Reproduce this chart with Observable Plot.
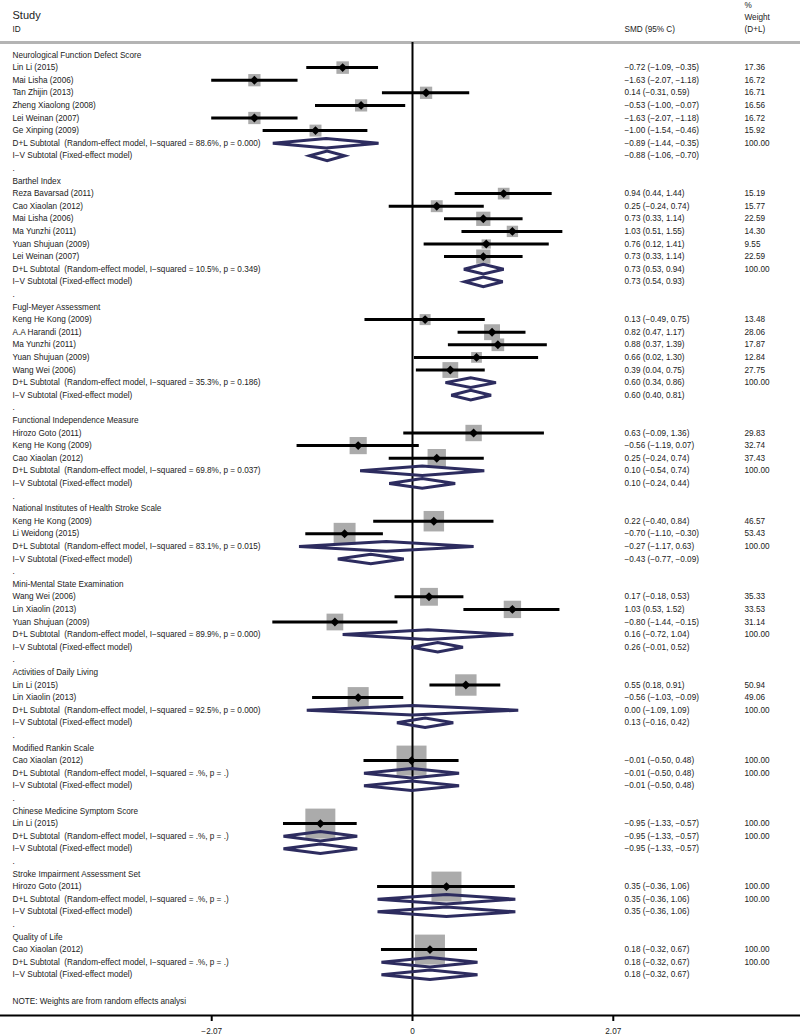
<!DOCTYPE html>
<html><head><meta charset="utf-8">
<script src="https://cdn.jsdelivr.net/npm/d3@7"></script>
<script src="https://cdn.jsdelivr.net/npm/@observablehq/plot@0.6"></script>
<style>
html,body{margin:0;padding:0;background:#fff;}
#chart svg{display:block;}
#chart text{white-space:pre;}
</style></head><body><div id="chart"></div>
<script>
// ---------- data ----------
const groupNames = [
  "Neurological Function Defect Score",
  "Barthel Index",
  "Fugl-Meyer Assessment",
  "Functional Independence Measure",
  "National Institutes of Health Stroke Scale",
  "Mini-Mental State Examination",
  "Activities of Daily Living",
  "Modified Rankin Scale",
  "Chinese Medicine Symptom Score",
  "Stroke Impairment Assessment Set",
  "Quality of Life"
];
const studyGroup = [0,0,0,0,0,0, 1,1,1,1,1,1, 2,2,2,2,2, 3,3,3, 4,4, 5,5,5, 6,6, 7, 8, 9, 10];
const studyNames = [
  "Lin Li (2015)","Mai Lisha (2006)","Tan Zhijin (2013)","Zheng Xiaolong (2008)","Lei Weinan (2007)","Ge Xinping (2009)",
  "Reza Bavarsad (2011)","Cao Xiaolan (2012)","Mai Lisha (2006)","Ma Yunzhi (2011)","Yuan Shujuan (2009)","Lei Weinan (2007)",
  "Keng He Kong (2009)","A.A Harandi (2011)","Ma Yunzhi (2011)","Yuan Shujuan (2009)","Wang Wei (2006)",
  "Hirozo Goto (2011)","Keng He Kong (2009)","Cao Xiaolan (2012)",
  "Keng He Kong (2009)","Li Weidong (2015)",
  "Wang Wei (2006)","Lin Xiaolin (2013)","Yuan Shujuan (2009)",
  "Lin Li (2015)","Lin Xiaolin (2013)",
  "Cao Xiaolan (2012)",
  "Lin Li (2015)",
  "Hirozo Goto (2011)",
  "Cao Xiaolan (2012)"
];
const studySmd  = [-0.72,-1.63,0.14,-0.53,-1.63,-1.00, 0.94,0.25,0.73,1.03,0.76,0.73, 0.13,0.82,0.88,0.66,0.39, 0.63,-0.56,0.25, 0.22,-0.70, 0.17,1.03,-0.80, 0.55,-0.56, -0.01, -0.95, 0.35, 0.18];
const studyLow  = [-1.09,-2.07,-0.31,-1.00,-2.07,-1.54, 0.44,-0.24,0.33,0.51,0.12,0.33, -0.49,0.47,0.37,0.02,0.04, -0.09,-1.19,-0.24, -0.40,-1.10, -0.18,0.53,-1.44, 0.18,-1.03, -0.50, -1.33, -0.36, -0.32];
const studyHigh = [-0.35,-1.18,0.59,-0.07,-1.18,-0.46, 1.44,0.74,1.14,1.55,1.41,1.14, 0.75,1.17,1.39,1.30,0.75, 1.36,0.07,0.74, 0.84,-0.30, 0.53,1.52,-0.15, 0.91,-0.09, 0.48, -0.57, 1.06, 0.67];
const studyWeight = [17.36,16.72,16.71,16.56,16.72,15.92, 15.19,15.77,22.59,14.30,9.55,22.59, 13.48,28.06,17.87,12.84,27.75, 29.83,32.74,37.43, 46.57,53.43, 35.33,33.53,31.14, 50.94,49.06, 100.00, 100.00, 100.00, 100.00];

const dlSmd  = [-0.89,0.73,0.60,0.10,-0.27,0.16,0.00,-0.01,-0.95,0.35,0.18];
const dlLow  = [-1.44,0.53,0.34,-0.54,-1.17,-0.72,-1.09,-0.50,-1.33,-0.36,-0.32];
const dlHigh = [-0.35,0.94,0.86,0.74,0.63,1.04,1.09,0.48,-0.57,1.06,0.67];
const dlI2   = ["88.6%","10.5%","35.3%","69.8%","83.1%","89.9%","92.5%",".%",".%",".%",".%"];
const dlP    = ["0.000","0.349","0.186","0.037","0.015","0.000","0.000",".",".",".","."];
const ivSmd  = [-0.88,0.73,0.60,0.10,-0.43,0.26,0.13,-0.01,-0.95,0.35,0.18];
const ivLow  = [-1.06,0.54,0.40,-0.24,-0.77,-0.01,-0.16,-0.50,-1.33,-0.36,-0.32];
const ivHigh = [-0.70,0.93,0.81,0.44,-0.09,0.52,0.42,0.48,-0.57,1.06,0.67];

const axisTicks = [-2.07, 0, 2.07];
const headerStudy = "Study", headerId = "ID", headerSmd = "SMD (95% C)";
const headerWeight = ["%", "Weight", "(D+L)"];
const noteText = "NOTE: Weights are from random effects analysi";

// ---------- build rows ----------
const MINUS = "\u2212";
const fmt = v => (v < 0 ? MINUS : "") + Math.abs(v).toFixed(2);
const fmtCI = (e, l, h) => `${fmt(e)} (${fmt(l)}, ${fmt(h)})`;

const textRows = [], studies = [], diamonds = [];
let r = 1;
groupNames.forEach((g, gi) => {
  textRows.push({row: r++, label: g});
  studyNames.forEach((n, i) => {
    if (studyGroup[i] !== gi) return;
    const row = r++;
    studies.push({row, smd: studySmd[i], lo: studyLow[i], hi: studyHigh[i], w: studyWeight[i]});
    textRows.push({row, label: n, est: fmtCI(studySmd[i], studyLow[i], studyHigh[i]), wt: studyWeight[i].toFixed(2)});
  });
  const h = 0.38;
  const dlRow = r++;
  textRows.push({row: dlRow, label: `D+L Subtotal  (Random-effect model, I${MINUS}squared = ${dlI2[gi]}, p = ${dlP[gi]})`,
    est: fmtCI(dlSmd[gi], dlLow[gi], dlHigh[gi]), wt: "100.00"});
  const ivRow = r++;
  textRows.push({row: ivRow, label: `I${MINUS}V Subtotal (Fixed-effect model)`, est: fmtCI(ivSmd[gi], ivLow[gi], ivHigh[gi])});
  [[dlRow, dlSmd[gi], dlLow[gi], dlHigh[gi], "dl" + gi], [ivRow, ivSmd[gi], ivLow[gi], ivHigh[gi], "iv" + gi]].forEach(([row, e, l, hi, id]) => {
    diamonds.push({id, x: l, y: row}, {id, x: e, y: row - h}, {id, x: hi, y: row}, {id, x: e, y: row + h});
  });
  if (gi < groupNames.length - 1) textRows.push({row: r++, label: "."});
});
const noteRow = r + 1.1;

// ---------- layout ----------
const W = 800, H = 1035, frameBottom = 1015;
const rowPx = 12.6, firstRowPx = 54.5;
const yOf = px => 1 + (px - firstRowPx) / rowPx;
const yTop = yOf(0), yBottom = yOf(frameBottom);
const zeroPx = 412, unitPx = 97;
const xDomain = [-zeroPx / unitPx, (W - zeroPx) / unitPx];
const navy = "#2d2c5f", boxGray = "#ababab", ink = "#222";
const colLeft = 12, colSmd = 624, colW = 744;

const chart = Plot.plot({
  width: W, height: H,
  marginLeft: 0, marginRight: 0, marginTop: 0, marginBottom: H - frameBottom,
  x: {domain: xDomain},
  y: {domain: [yTop, yBottom], reverse: true, axis: null},
  r: {type: "sqrt", domain: [0, 100], range: [0, 30 / Math.sqrt(Math.PI)]},
  style: {fontFamily: "'Liberation Sans', Arial, Helvetica, sans-serif", fontSize: "8.2px", color: ink, background: "#fff"},
  marks: [
    Plot.ruleY([yOf(42)], {stroke: "#b4b4b4", strokeWidth: 3}),
    Plot.ruleY([yBottom], {stroke: "#000", strokeWidth: 2}),
    Plot.axisX({ticks: axisTicks, tickFormat: d => d === 0 ? "0" : fmt(d), tickSize: 6, tickPadding: 7, strokeWidth: 2, fontSize: 8.2, stroke: "#000", fill: ink}),
    Plot.dot(studies, {x: "smd", y: "row", r: "w", symbol: "square", fill: boxGray, stroke: "none"}),
    Plot.ruleX([0], {y1: yOf(42), y2: yBottom, stroke: "#000", strokeWidth: 2}),
    Plot.ruleY(studies, {y: "row", x1: "lo", x2: "hi", stroke: "#000", strokeWidth: 3}),
    Plot.line(diamonds, {x: "x", y: "y", z: "id", curve: "linear-closed", stroke: navy, strokeWidth: 3, strokeLinejoin: "miter", strokeMiterlimit: 4, fill: "none"}),
    Plot.dot(studies, {x: "smd", y: "row", r: 4, symbol: "diamond2", fill: "#000", stroke: "none"}),
    // header
    Plot.text([headerStudy], {y: yOf(15), frameAnchor: "left", dx: colLeft, textAnchor: "start", fontSize: 11, fill: ink}),
    Plot.text([headerId], {y: yOf(28.5), frameAnchor: "left", dx: colLeft, textAnchor: "start", fill: ink}),
    Plot.text([headerSmd], {y: yOf(28.5), frameAnchor: "left", dx: colSmd, textAnchor: "start", fill: ink}),
    Plot.text(headerWeight, {y: (d, i) => yOf(4.5 + i * 12), frameAnchor: "left", dx: colW, textAnchor: "start", fill: ink}),
    // rows
    Plot.text(textRows, {y: "row", text: "label", frameAnchor: "left", dx: colLeft, textAnchor: "start", fill: ink}),
    Plot.text(textRows.filter(d => d.est), {y: "row", text: "est", frameAnchor: "left", dx: colSmd, textAnchor: "start", fill: ink}),
    Plot.text(textRows.filter(d => d.wt), {y: "row", text: "wt", frameAnchor: "left", dx: colW, textAnchor: "start", fill: ink}),
    Plot.text([noteText], {y: noteRow, frameAnchor: "left", dx: colLeft, textAnchor: "start", fill: ink})
  ]
});
document.getElementById("chart").appendChild(chart);
</script>
</body></html>
